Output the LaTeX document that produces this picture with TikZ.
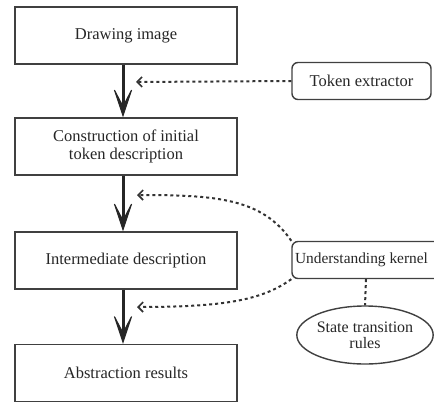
\documentclass[tikz,border=0pt]{standalone}
\usepackage{fontspec}
\setmainfont{Liberation Serif}
\usetikzlibrary{arrows.meta,shapes.geometric}
\begin{document}
\begin{tikzpicture}[x=1pt,y=-1pt,
  box/.style={draw=black!75, line width=1.4pt, rectangle, minimum width=222pt, minimum height=57pt, align=center, inner sep=0pt, text=black!85, font=\fontsize{16.5}{18}\selectfont},
  rbox/.style={draw=black!75, line width=1.4pt, rectangle, rounded corners=6pt, minimum height=37pt, inner sep=0pt, text=black!85, font=\fontsize{16.5}{18}\selectfont},
  label/.style={inner sep=0pt, text=black!85, font=\fontsize{15.4}{18}\selectfont},
  oval/.style={draw=black!75, line width=1.4pt, ellipse, minimum width=126pt, minimum height=58pt, inner sep=0pt, align=center, text=black!85, font=\fontsize{16}{16}\selectfont},
  mainarrow/.style={draw=black!85, line width=3pt, -{Stealth[length=33pt,width=22pt,inset=21pt,line width=1pt]}},
  dotline/.style={draw=black!80, line width=2pt, dash pattern=on 3pt off 3pt},
  dotarrow/.style={dotline, -{Straight Barb[length=5pt,width=10pt,line width=1.6pt]}}
]
\useasboundingbox (0,0) rectangle (434,402);
\clip (0,0) rectangle (434,402);
\node[box] (a) at (126,35.5) {Drawing image};
\node[box] (b) at (126,146.5) {Construction of initial\\token description};
\node[box] (c) at (126,260.5) {Intermediate description};
\node[box] (d) at (126,373) {Abstraction results};
\node[rbox, minimum width=139pt] (t) at (361.5,81) {Token extractor};
\node[rbox, minimum width=148pt] (k) at (366,260) {};
\node[label, anchor=west] (kl) at ([xshift=3.5pt]k.west) {Understanding kernel};
\node[oval] (e) at (365,335) {State transition\\rules};
\coordinate (m) at (123,0);
\coordinate (ta) at (136,82);
\coordinate (tb) at (137,195);
\coordinate (tc) at (137,307);
\draw[mainarrow] (a.south -| m) -- (b.north -| m);
\draw[mainarrow] (b.south -| m) -- (c.north -| m);
\draw[mainarrow] (c.south -| m) -- (d.north -| m);
\draw[dotarrow] (t.west) -- (ta);
\draw[dotarrow] (k.north west) .. controls (262,198) and (215,195) .. (tb);
\draw[dotarrow] (k.south west) .. controls (262,300) and (225,307) .. (tc);
\draw[dotline] (k.south) -- (e.north);
\end{tikzpicture}
\end{document}
